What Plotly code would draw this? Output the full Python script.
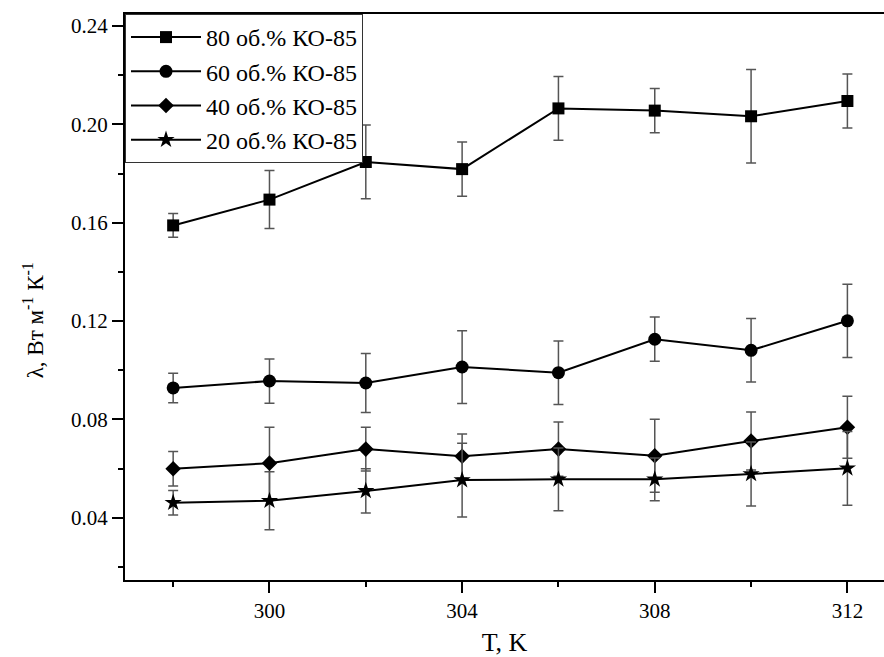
import plotly.graph_objects as go

T = [298, 300, 302, 304, 306, 308, 310, 312]

names = ["80 об.% КО-85", "60 об.% КО-85", "40 об.% КО-85", "20 об.% КО-85"]

k80 = [0.1589, 0.1694, 0.1847, 0.1818, 0.2065, 0.2056, 0.2033, 0.2095]
e80 = [0.0048, 0.0118, 0.0150, 0.0110, 0.0130, 0.0090, 0.0190, 0.0110]

k60 = [0.0928, 0.0956, 0.0948, 0.1013, 0.0990, 0.1126, 0.1081, 0.1201]
e60 = [0.0060, 0.0090, 0.0120, 0.0148, 0.0129, 0.0090, 0.0129, 0.0149]

k40 = [0.0599, 0.0622, 0.0679, 0.0650, 0.0679, 0.0652, 0.0712, 0.0768]
e40 = [0.0070, 0.0146, 0.0089, 0.0090, 0.0110, 0.0148, 0.0118, 0.0126]

k20 = [0.0461, 0.0469, 0.0509, 0.0553, 0.0556, 0.0556, 0.0578, 0.0601]
e20 = [0.0050, 0.0118, 0.0090, 0.0150, 0.0128, 0.0087, 0.0130, 0.0150]

x_ticks = [300, 304, 308, 312]
x_minor = [298, 302, 306, 310]
y_ticks = [0.04, 0.08, 0.12, 0.16, 0.20, 0.24]
y_ticktext = ["0.04", "0.08", "0.12", "0.16", "0.20", "0.24"]
y_minor = [0.02, 0.06, 0.10, 0.14, 0.18, 0.22]

x_title = "T, K"
y_title = "λ, Вт м<sup>-1</sup> К<sup>-1</sup>"

series = [
    (names[0], k80, e80, "square", 12),
    (names[1], k60, e60, "circle", 13),
    (names[2], k40, e40, "diamond", 12),
    (names[3], k20, e20, "star", 13),
]

FONT = '"Liberation Serif", "Times New Roman", Tinos, serif'

fig = go.Figure()
for name, vals, errs, sym, sz in series:
    fig.add_trace(go.Scatter(
        x=T, y=vals, name=name, mode="lines+markers",
        line=dict(color="black", width=2),
        marker=dict(symbol=sym, size=sz, color="black"),
        error_y=dict(type="data", array=errs, visible=True,
                     color="#555555", thickness=1.5, width=5),
    ))

fig.update_layout(
    width=884, height=657,
    margin=dict(l=125, r=0, t=14, b=77),
    paper_bgcolor="white", plot_bgcolor="white",
    font=dict(family=FONT, color="black", size=21),
    showlegend=True,
    legend=dict(
        x=0, y=1, xanchor="left", yanchor="top",
        bgcolor="white", bordercolor="#333333", borderwidth=1,
        font=dict(family=FONT, size=24, color="black"),
        itemwidth=70, tracegroupgap=0,
    ),
    xaxis=dict(
        range=[297, 312.76],
        tickmode="array", tickvals=x_ticks,
        ticks="outside", ticklen=11, tickwidth=1.5, tickcolor="black",
        minor=dict(tickvals=x_minor, ticks="outside", ticklen=5,
                   tickwidth=1.5, tickcolor="black"),
        showline=True, linecolor="black", linewidth=2, mirror=True,
        showgrid=False, zeroline=False,
        tickfont=dict(family=FONT, size=21),
        title=dict(text=x_title, font=dict(family=FONT, size=26), standoff=14),
    ),
    yaxis=dict(
        range=[0.01466, 0.2449],
        tickmode="array", tickvals=y_ticks, ticktext=y_ticktext,
        ticks="outside", ticklen=11, tickwidth=1.5, tickcolor="black",
        minor=dict(tickvals=y_minor, ticks="outside",
                   ticklen=5, tickwidth=1.5, tickcolor="black"),
        showline=True, linecolor="black", linewidth=2, mirror=False,
        showgrid=False, zeroline=False,
        tickfont=dict(family=FONT, size=21),
    ),
    annotations=[dict(
        text=y_title, textangle=-90, showarrow=False,
        xref="paper", yref="paper", x=-0.121, y=0.459,
        xanchor="center", yanchor="middle",
        font=dict(family=FONT, size=23, color="black"),
    )],
)

fig.write_html(
    "out.html",
    config={"displayModeBar": False},
    post_script="document.body.style.margin='0';document.body.style.overflow='hidden';",
)
